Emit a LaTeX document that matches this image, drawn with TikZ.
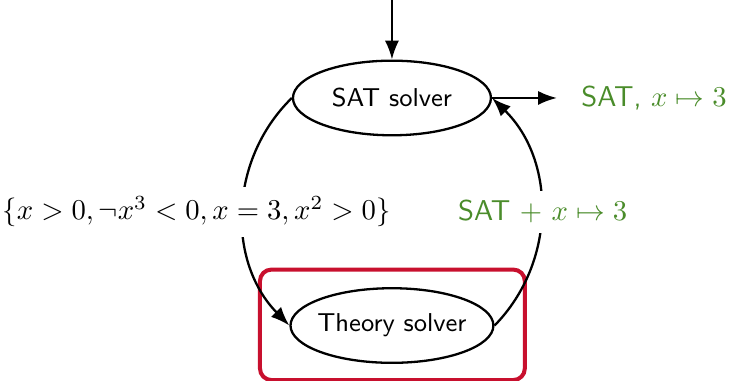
\documentclass[tikz,border=0pt]{standalone}
\usepackage{tikz}
\usetikzlibrary{arrows.meta, positioning, shapes.geometric}
\definecolor{satgreen}{RGB}{74,140,42}
\definecolor{focusred}{RGB}{200,16,46}
\tikzset{solver/.style={ellipse,draw,thick,font=\sffamily\small,inner xsep=-1pt,minimum width=69pt,minimum height=26pt},line/.style={thick,-Latex},result/.style={text=satgreen,font=\sffamily},focus/.style={draw=focusred,line width=1.4pt,rounded corners=4pt},lbl/.style={fill=white}}

\begin{document}
\begin{tikzpicture}[node distance=21pt and 22.6pt]
\useasboundingbox (-136.6pt,-98.6pt) rectangle (118.5pt,34.15pt);
\node[solver] (sat) {SAT solver};
\node[solver, below=52.5pt of sat] (theory) {Theory solver};
\coordinate[above=of sat] (in);
\coordinate[right=of sat] (out);
\node[result, right=5pt of out] (model) {SAT, $x \mapsto 3$};
\path (sat) -- coordinate[midway] (mid) (theory);
\draw[focus] ([shift={(-46pt,-19pt)}]theory.center) rectangle ([shift={(46.3pt,19.5pt)}]theory.center);
\draw[line] (in) -- (sat);
\draw[line] (sat) -- (out);
\draw[line] (sat.west) to[bend right=45] (theory.west);
\draw[line] (theory.east) to[bend right=45] (sat.east);
\node[lbl, anchor=east, xshift=3pt] (query) at (mid) {$\{x > 0, \neg x^3 < 0, x = 3, x^2 > 0\}$};
\node[lbl, result, right=19.5pt of mid] (answer) {SAT $+$ $x \mapsto 3$};
\end{tikzpicture}
\end{document}
